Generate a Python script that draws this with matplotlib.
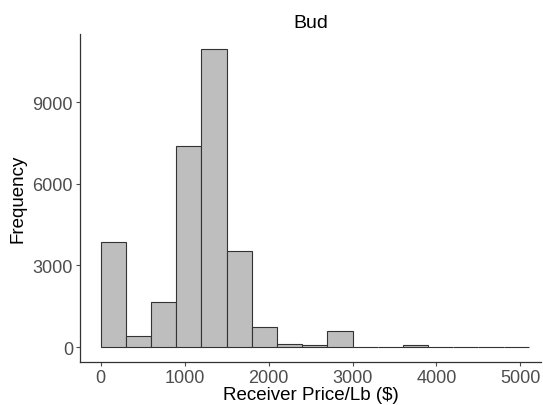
import numpy as np
import matplotlib.pyplot as plt

plt.rcParams['font.family'] = ['Liberation Sans', 'DejaVu Sans']

# bins de 300 $ desde 0
bin_left = [0, 300, 600, 900, 1200, 1500, 1800, 2100, 2400, 2700,
            3000, 3300, 3600, 3900, 4200, 4500, 4800]
counts = [3860, 390, 1650, 7400, 10960, 3530, 735, 100, 60, 590,
          0, 0, 90, 0, 0, 20, 0]
x_ticks = [0, 1000, 2000, 3000, 4000, 5000]
y_ticks = [0, 3000, 6000, 9000]

fig = plt.figure(figsize=(5.43, 4.06), dpi=100)
ax = fig.add_axes([80 / 543, 1 - 363 / 406, 461 / 543, 328 / 406])

ax.bar(bin_left, counts, width=300, align='edge', color='#BEBEBE',
       edgecolor='#333333', linewidth=0.8)

ax.set_xlim(-246, 5245)
ax.set_ylim(-548, 11510)
ax.set_xticks(x_ticks)
ax.set_yticks(y_ticks)
ax.tick_params(colors='#4D4D4D', labelsize=13, length=3, width=0.8, pad=2)
for s in ['top', 'right']:
    ax.spines[s].set_visible(False)
for s in ['left', 'bottom']:
    ax.spines[s].set_color('#333333')
    ax.spines[s].set_linewidth(0.9)

ax.set_xlabel('Receiver Price/Lb ($)', fontsize=13.5, labelpad=0)
ax.set_ylabel('Frequency', fontsize=13.5, labelpad=4)
ax.set_title('Bud', fontsize=14, pad=5)

fig.savefig('out.png', dpi=100)
